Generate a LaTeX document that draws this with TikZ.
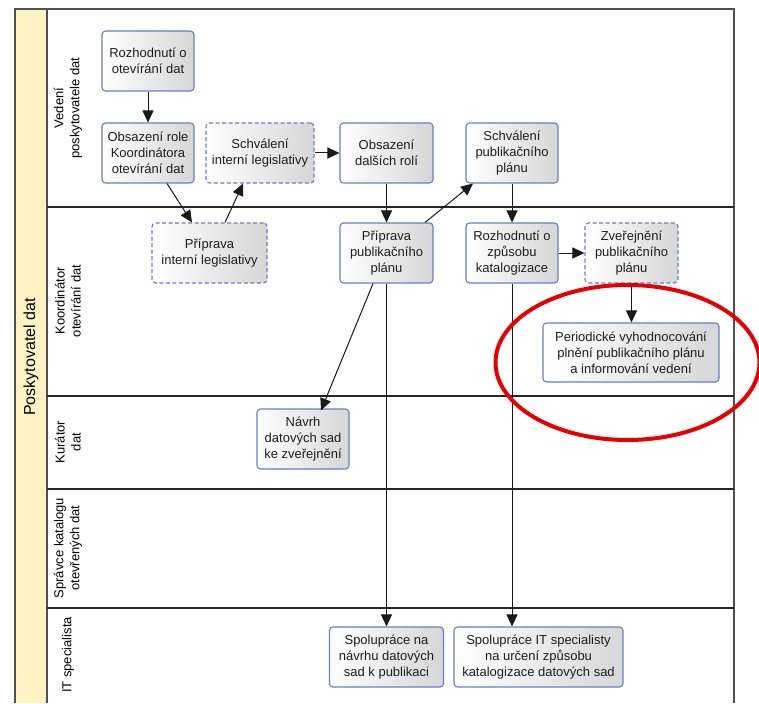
\documentclass[tikz,border=0pt]{standalone}
\usepackage{fontspec}
\setmainfont{Liberation Sans}
\usetikzlibrary{arrows.meta,shapes.geometric}
\definecolor{poolyellow}{RGB}{255,243,196}
\definecolor{taskblue}{RGB}{106,124,198}
\definecolor{framegray}{RGB}{80,80,80}
\definecolor{textdark}{RGB}{30,30,30}
\definecolor{redmark}{RGB}{232,0,0}
\tikzset{
  task/.style={draw=taskblue, line width=1.1pt, rounded corners=3.5pt,
    left color=white, right color=black!16, minimum height=60pt,
    align=center, inner sep=0pt, text=textdark,
    font=\fontsize{13}{16}\selectfont},
  dtask/.style={task, dash pattern=on 4pt off 2.5pt},
  flow/.style={-{Triangle[length=12pt,width=11pt]}, line width=1pt, black!90},
  lanelabel/.style={rotate=90, align=center, font=\fontsize{13}{16}\selectfont},
  laneline/.style={line width=1.2pt, black!85}
}
\begin{document}
\begin{tikzpicture}[x=1pt,y=-1pt]
\useasboundingbox (0,0) rectangle (759,703);
% pool
\fill[poolyellow] (15,9) rectangle (47,703);
\draw[framegray, line width=1.3pt] (15,703) -- (15,9) -- (734,9) -- (734,703);
\draw[framegray, line width=1.2pt] (47,9) -- (47,703);
\node[rotate=90, font=\fontsize{16}{19}\selectfont] (pool) at (31,357) {Poskytovatel dat};
% lanes
\draw[laneline] (47,207) -- (734,207);
\draw[laneline] (47,396) -- (734,396);
\draw[laneline] (47,489) -- (734,489);
\draw[laneline] (47,608) -- (734,608);
\node[lanelabel] (l1) at (68,108) {Vedení\\poskytovatele dat};
\node[lanelabel] (l2) at (68,301) {Koordinátor\\otevírání dat};
\node[lanelabel] (l3) at (68,442) {Kurátor\\dat};
\node[lanelabel] (l4) at (68,548) {Správce katalogu\\otevřených dat};
\node[lanelabel] (l5) at (68,655) {IT specialista};
% tasks
\node[task, minimum width=92pt] (rozhod) at (148,61) {Rozhodnutí o\\otevírání dat};
\node[task, minimum width=92pt] (obsrole) at (148,153) {Obsazení role\\Koordinátora\\otevírání dat};
\node[dtask, minimum width=108pt] (schvleg) at (260,153) {Schválení\\interní legislativy};
\node[task, minimum width=93pt] (obsdal) at (386.5,153) {Obsazení\\dalších rolí};
\node[task, minimum width=92pt] (schvpub) at (512,153) {Schválení\\publikačního\\plánu};
\node[dtask, minimum width=115pt] (pripleg) at (209.5,253) {Příprava\\interní legislativy};
\node[task, minimum width=93pt] (pripub) at (386.5,253) {Příprava\\publikačního\\plánu};
\node[task, minimum width=92pt] (rozkat) at (512,253) {Rozhodnutí o\\způsobu\\katalogizace};
\node[dtask, minimum width=93pt] (zverej) at (631.5,253) {Zveřejnění\\publikačního\\plánu};
\node[task, minimum width=176pt, minimum height=59pt] (period) at (631,352.5) {Periodické vyhodnocování\\plnění publikačního plánu\\a informování vedení};
\node[task, minimum width=92pt] (navrh) at (303,439) {Návrh\\datových sad\\ke zveřejnění};
\node[task, minimum width=114pt] (spolnav) at (386.5,657) {Spolupráce na\\návrhu datových\\sad k publikaci};
\node[task, minimum width=169pt] (spolit) at (538.5,657) {Spolupráce IT specialisty\\na určení způsobu\\katalogizace datových sad};
% flows
\draw[flow] (rozhod) -- (obsrole);
\draw[flow] ([xshift=19pt]obsrole.south) -- ([xshift=-17.5pt]pripleg.north);
\draw[flow] ([xshift=15.5pt]pripleg.north) -- ([xshift=-17pt]schvleg.south);
\draw[flow] (schvleg) -- (obsdal);
\draw[flow] (obsdal) -- (pripub);
\draw[flow] ([xshift=38.5pt]pripub.north) -- ([xshift=-39pt]schvpub.south);
\draw[flow] (schvpub) -- (rozkat);
\draw[flow] (rozkat) -- (zverej);
\draw[flow] (zverej.south) -- (zverej.south |- period.north);
\draw[flow] ([xshift=-13.5pt]pripub.south) -- ([xshift=18pt,yshift=-2pt]navrh.north);
\draw[flow] (pripub.south) -- (spolnav.north);
\draw[flow] (rozkat.south) -- (rozkat.south |- spolit.north);
% red highlight
\draw[redmark, line width=4pt] (627.5,362.5) ellipse [x radius=132, y radius=77.5];
\end{tikzpicture}
\end{document}
